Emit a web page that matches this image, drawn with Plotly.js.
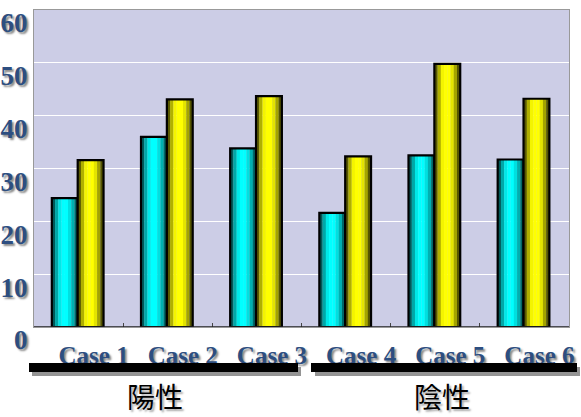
<!DOCTYPE html>
<html>
<head>
<meta charset="utf-8">
<script src="https://cdn.plot.ly/plotly-3.0.1.min.js"></script>
<style>html,body{margin:0;padding:0;background:#fff;}#chart{width:581px;height:417px;}</style>
</head>
<body>
<div id="chart"></div>
<script>
// ---- data ----
const cases = ['Case 1', 'Case 2', 'Case 3', 'Case 4', 'Case 5', 'Case 6'];
const cyanValues = [24.4, 36.0, 33.8, 21.6, 32.5, 31.7];
const yellowValues = [31.6, 43.1, 43.7, 32.3, 49.8, 43.2];
const groupLabels = ['陽性', '陰性'];
const yTickValues = [0, 10, 20, 30, 40, 50, 60];

// ---- style ----
const cyanStrips = ['#005a5a', '#00a8a8', '#00e8e8', '#00ffff', '#00ffff', '#00e0e0', '#00b0b0', '#006868'];
const yellowStrips = ['#5a5a00', '#b0b000', '#f4f400', '#ffff00', '#ffff00', '#e4e400', '#a4a400', '#555500'];
const barW = 0.29;
const textBlue = '#2d4e80';

function stripTraces(values, strips, offset) {
  const n = strips.length;
  const out = strips.map((c, k) => ({
    type: 'bar', x: cases, y: values,
    offset: offset + k * barW / n, width: barW / n + 0.002,
    marker: {color: c, line: {width: 0}},
    hoverinfo: 'y', showlegend: false
  }));
  out.push({
    type: 'bar', x: cases, y: values, offset: offset, width: barW,
    marker: {color: 'rgba(0,0,0,0)', line: {width: 2.2, color: '#000'}},
    hoverinfo: 'skip', showlegend: false
  });
  return out;
}

const traces = [].concat(
  stripTraces(cyanValues, cyanStrips, -barW - 0.01),
  stripTraces(yellowValues, yellowStrips, -0.01)
);

// pixel helpers (plot area 34..569 x, 10..327 y)
const L = 34, R = 569, T = 10, B = 327;
const px = v => (v - L) / (R - L);
const py = v => (B - v) / (B - T);

const shapes = [
  {type: 'rect', xref: 'paper', yref: 'paper', x0: px(32), x1: px(301), y0: py(367), y1: py(376), fillcolor: '#666', line: {width: 0}, opacity: 0.7},
  {type: 'rect', xref: 'paper', yref: 'paper', x0: px(29), x1: px(298), y0: py(363), y1: py(372), fillcolor: '#000', line: {width: 0}},
  {type: 'rect', xref: 'paper', yref: 'paper', x0: px(315), x1: px(580), y0: py(367), y1: py(376), fillcolor: '#666', line: {width: 0}, opacity: 0.7},
  {type: 'rect', xref: 'paper', yref: 'paper', x0: px(311), x1: px(577), y0: py(363), y1: py(372), fillcolor: '#000', line: {width: 0}},
  {type: 'line', xref: 'paper', yref: 'y', x0: 0, x1: 1, y0: 0, y1: 0, line: {color: '#222', width: 1.5}}
];

const gfont = {family: 'Noto Sans CJK JP, sans-serif', size: 28, color: '#000', shadow: '2px 2px 2px #aaa'};
const annotations = [
  {xref: 'paper', yref: 'paper', x: px(155), y: py(396), text: groupLabels[0], showarrow: false,
   font: gfont, xanchor: 'center', yanchor: 'middle', borderpad: 0},
  {xref: 'paper', yref: 'paper', x: px(442), y: py(396), text: groupLabels[1], showarrow: false,
   font: gfont, xanchor: 'center', yanchor: 'middle', borderpad: 0}
];

const layout = {
  width: 581, height: 417,
  margin: {l: L, r: 581 - R, t: T, b: 417 - B, pad: 0},
  paper_bgcolor: '#ffffff',
  plot_bgcolor: '#cccde6',
  barmode: 'overlay',
  showlegend: false,
  xaxis: {
    type: 'category', range: [-0.5, 5.5],
    showline: true, mirror: true, linecolor: '#999', linewidth: 1,
    ticks: 'inside', tickson: 'boundaries', ticklen: 4, tickcolor: '#444',
    showgrid: false, zeroline: false,
    tickfont: {family: 'Liberation Serif, Times New Roman, serif', size: 25, color: textBlue, weight: 'bold', shadow: '2px 2px 2px #888'},
    ticklabelshift: 15, ticklabelstandoff: 6
  },
  yaxis: {
    range: [0, 60], tickvals: yTickValues,
    showline: true, mirror: true, linecolor: '#999', linewidth: 1,
    showgrid: true, gridcolor: '#ffffff', gridwidth: 1.3, zeroline: false,
    ticks: '',
    tickfont: {family: 'Liberation Serif, Times New Roman, serif', size: 27, color: textBlue, weight: 'bold', shadow: '2px 2px 2px #888'},
    ticklabelshift: 13, ticklabelstandoff: 0
  },
  shapes: shapes,
  annotations: annotations
};

Plotly.newPlot('chart', traces, layout, {displayModeBar: false, staticPlot: true});
</script>
</body>
</html>
